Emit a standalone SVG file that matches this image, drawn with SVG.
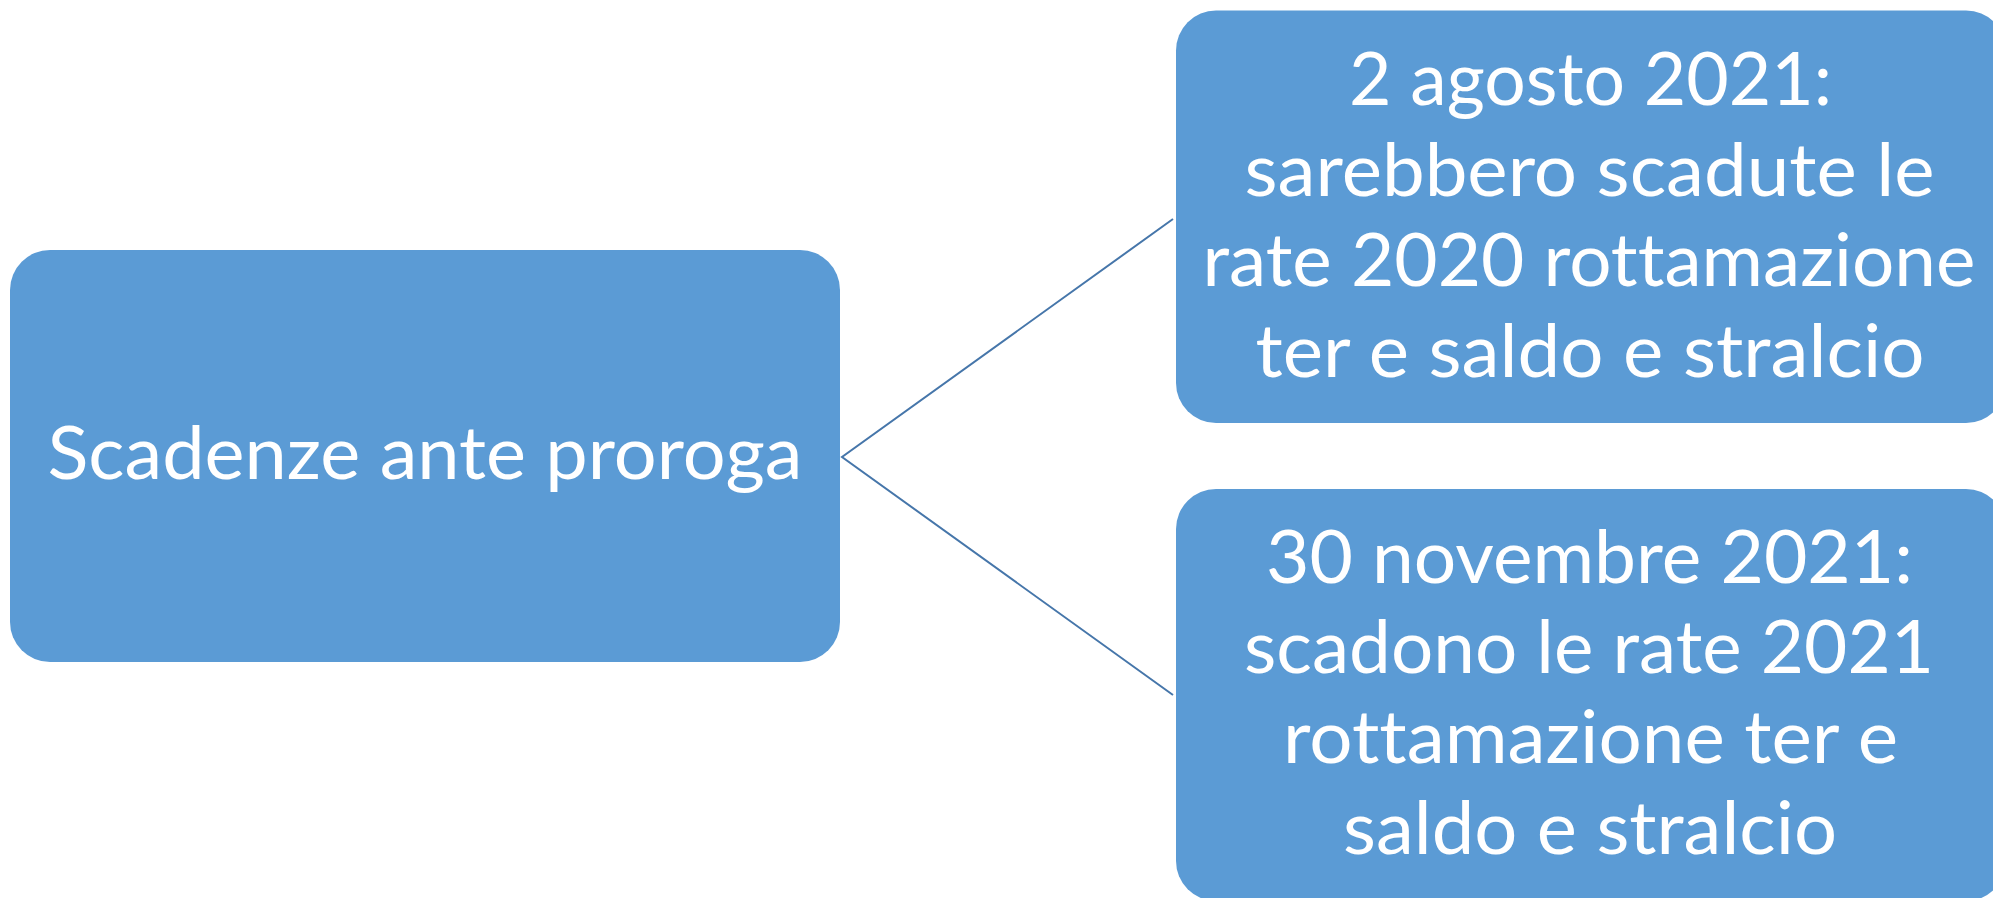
<svg xmlns="http://www.w3.org/2000/svg" width="1993" height="898" viewBox="0 0 1993 898">
<style>
.box{fill:#5B9BD5;}
.lbl{fill:#FFFFFF;font-family:Lato,"Open Sans","Liberation Sans",sans-serif;font-size:74px;text-anchor:middle;font-variant-ligatures:none;font-feature-settings:"liga" 0,"clig" 0;}
.conn{stroke:#4676AA;stroke-width:2;fill:none;}
</style>
<rect width="1993" height="898" fill="#FFFFFF"/>
<g id="connectors">
<polyline class="conn" points="1173,219 842,457 1173,695"/>
</g>
<g id="node-root">
<rect class="box" x="10" y="250" width="830" height="412" rx="40" ry="40"/>
<text class="lbl" x="425" y="479" textLength="755" lengthAdjust="spacingAndGlyphs">Scadenze ante proroga</text>
</g>
<g id="node-agosto">
<rect class="box" x="1176" y="10.5" width="830" height="412.5" rx="40" ry="40"/>
<text class="lbl" x="1590.5" y="105" textLength="483" lengthAdjust="spacingAndGlyphs">2 agosto 2021:</text>
<text class="lbl" x="1589.5" y="196" textLength="690" lengthAdjust="spacingAndGlyphs">sarebbero scadute le</text>
<text class="lbl" x="1589" y="286" textLength="773" lengthAdjust="spacingAndGlyphs">rate 2020 rottamazione</text>
<text class="lbl" x="1590" y="377" textLength="669" lengthAdjust="spacingAndGlyphs">ter e saldo e stralcio</text>
</g>
<g id="node-novembre">
<rect class="box" x="1176" y="489" width="830" height="412" rx="40" ry="40"/>
<text class="lbl" x="1589.5" y="583" textLength="647" lengthAdjust="spacingAndGlyphs">30 novembre 2021:</text>
<text class="lbl" x="1589" y="673" textLength="690" lengthAdjust="spacingAndGlyphs">scadono le rate 2021</text>
<text class="lbl" x="1590.5" y="763" textLength="615" lengthAdjust="spacingAndGlyphs">rottamazione ter e</text>
<text class="lbl" x="1590" y="854" textLength="494" lengthAdjust="spacingAndGlyphs">saldo e stralcio</text>
</g>
</svg>
